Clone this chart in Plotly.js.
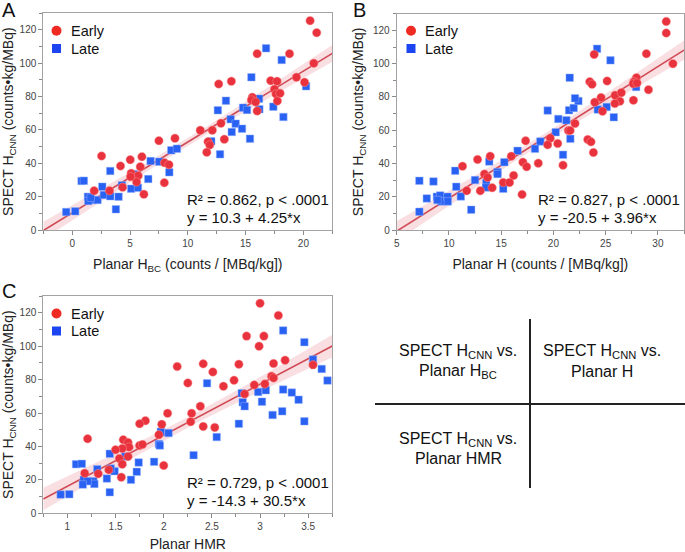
<!DOCTYPE html>
<html>
<head>
<meta charset="utf-8">
<script src="https://cdn.plot.ly/plotly-3.0.1.min.js"></script>
<style>html,body{margin:0;padding:0;background:#fff;}#chart{width:685px;height:552px;}</style>
</head>
<body>
<div id="chart"></div>
<script>
// ---------- Series names ----------
const seriesNames = ['Early', 'Late'];

// ---------- Panel A: SPECT H_CNN vs Planar H_BC ----------
const earlyA_x = [20.58,21.15,20.9,16.0,18.8,19.4,20.1,12.67,13.77,17.17,17.72,17.5,17.63,17.98,17.75,15.58,15.5,15.87,16.0,12.87,11.08,12.12,13.16,11.75,11.9,11.64,7.5,8.89,2.54,4.18,5.02,6.03,5.89,7.99,8.37,7.97,5.1,5.71,5.57,5.05,6.2,4.36,3.23,1.9];
const earlyA_y = [125.6,118.4,100,105.8,105.8,91.6,88.6,87.6,89.2,89.6,89.2,84.4,81.6,82,77.4,79.6,78,76.8,71.4,64,59.8,59.8,54.4,53,51,46.6,53.6,55,44.4,38.4,42.2,44,38,40.4,39.2,28.4,34,32.6,28.8,32,21.4,25.6,23.6,23.6];
const lateA_x = [16.77,18.12,15.5,20.23,13.3,12.6,14.78,15.12,16.16,16.19,17.4,18.27,13.71,14.14,14.69,13.8,15.38,12.03,12.79,8.57,9.06,6.78,7.53,8.4,6.58,3.29,0.81,1.01,2.6,4.3,5.1,5.69,5.34,1.36,1.67,2.19,2.74,3.29,4.01,3.78,0.26,-0.52,1.39,1.6];
const lateA_y = [109,102,91.6,86.2,77.6,71.8,73.4,72,78.8,72.4,74,67.8,66.4,63.8,60.8,58.8,54.8,53.2,45.4,47.8,48.8,41.4,41,34.6,30.6,35.4,29.4,29.6,26,26.8,24.8,25.4,33.4,20,18,18,21,20.2,20,12.4,11.2,10.8,17.4,19.4];

// ---------- Panel B: SPECT H_CNN vs Planar H ----------
const earlyB_x = [30.8,30.8,31.44,28.9,23.9,27.95,27.7,27.64,28.0,29.1,23.48,23.7,25.14,24.56,23.96,25.9,26.5,26.36,25.88,27.66,24.7,22.07,21.43,21.6,23.29,23.6,23.83,17.34,19.7,19.45,20.41,20.92,13.95,11.3,12.74,15.97,17.08,18.55,17.44,13.4,13.7,16.19,15.2,15.8,14.14,13.0,11.7,17.0];
const earlyB_y = [125.4,118.4,100,106,105.6,91.6,89.2,88,88.4,84.4,89.2,87.6,89.6,79.6,76.8,81,82.6,77.4,76,78,71.4,64,59.8,59.8,54.4,53,46.6,53.6,55.2,51.2,52,39,44.4,38.4,42.4,44.4,40.8,40.2,38,33.6,31.6,32.8,28.6,28.6,25.4,23.6,23.6,21.4];
const lateB_x = [24.18,25.46,21.56,27.92,19.45,21.5,21.94,22.39,22.07,24.25,25.1,25.78,20.47,21.24,20.22,21.62,18.75,18.24,16.57,20.92,13.86,15.3,14.65,14.65,10.6,7.17,8.52,12.5,13.57,13.54,15.2,10.7,7.88,8.84,9.16,9.28,9.86,9.89,8.9,11.14,12.13,7.17];
const lateB_y = [109,102,91.6,86,71.8,72,73.4,77.6,79.2,72.4,74,67.8,66.8,66,58.8,54.8,53.2,48.8,47.6,45.2,41.2,40.8,34.8,33.6,35.6,29.6,29.2,30,28.4,25.6,24.8,26,19,20,20.8,17.2,20,17.2,18,20.2,12.2,11];

// ---------- Panel C: SPECT H_CNN vs Planar HMR ----------
const earlyC_x = [3.0,3.19,2.86,3.04,2.99,3.26,3.55,3.14,2.41,2.14,2.51,2.78,3.12,3.14,3.05,2.94,2.73,2.62,2.25,2.84,2.38,2.29,2.04,2.28,2.41,2.53,1.98,1.95,1.81,1.75,1.21,1.58,1.63,1.64,1.57,1.5,1.75,1.78,1.54,1.63,1.57,2.0,1.43,1.32,1.18,1.56];
const earlyC_y = [125.6,118.4,106,106,100,91.6,88.8,89.6,89.4,87.8,84.6,89.2,82,81,77.4,76.8,79.6,76,78,71.4,64,59.8,59.8,54.8,52,51.4,53.2,47,55.4,53.6,44.6,44,42.4,39.6,38.8,38,40.6,41.2,32.8,34,29.4,28.6,26,23.6,24,21.6];
const lateC_x = [3.24,3.46,3.55,3.64,3.7,2.45,2.81,2.98,3.06,3.24,3.33,3.4,2.82,2.84,3.02,3.13,3.23,3.46,2.78,2.55,1.97,2.05,1.95,1.96,2.31,1.9,1.74,1.72,1.66,1.49,1.45,1.44,1.6,1.31,1.09,1.15,1.17,1.41,1.27,1.28,1.21,1.16,1.44,0.93,1.02];
const lateC_y = [109.4,102.4,92,86.4,79.4,77.8,71.8,72.6,73.6,74,72.2,68,66.4,64,66.8,58.8,61,55,53.6,45.6,48.8,48,41.4,40.6,34.8,30.8,30.4,24.8,20,25.2,26.8,35.6,34,26.4,29.4,29.6,20,20.8,19.2,17.6,19.2,17.2,12.6,11.2,11.4];

// ---------- Regression results (as printed) ----------
const fitIntercept = [10.3, -20.5, -14.3];
const fitSlope = [4.25, 3.96, 30.5];
const fitR2 = ['0.862', '0.827', '0.729'];
const fitP = ['.0001', '.0001', '.0001'];

// ---------- Axis titles / labels ----------
const panelLetters = ['A', 'B', 'C'];
const xTitles = ['Planar H<sub>BC</sub> (counts / [MBq/kg])', 'Planar H (counts / [MBq/kg])', 'Planar HMR'];
const yTitle = 'SPECT H<sub>CNN</sub> (counts•kg/MBq)';
const tableLine1 = ['SPECT H<sub>CNN</sub> vs.', 'SPECT H<sub>CNN</sub> vs.', 'SPECT H<sub>CNN</sub> vs.'];
const tableLine2 = ['Planar H<sub>BC</sub>', 'Planar H', 'Planar HMR'];

// ---------- Layout helpers ----------
const W = 685, H = 552;
const px = v => v / W;
const py = v => 1 - v / H;
const FONT = '"Liberation Sans", Arial, Helvetica, sans-serif';
const RED = '#e8323d', BLUE = '#2961f2';
const LINE = '#d04a55', BAND = 'rgba(228,110,122,0.22)';

const panels = [
  {ex: earlyA_x, ey: earlyA_y, lx: lateA_x, ly: lateA_y, xr: [-2.5, 22.5], xd: [43.3, 332.3], yd: [13.3, 230], dt: 5, mdt: 2.5, ax: '', leg: [56.5, 30.7, 48.5], ann: [185, 199.5, 217], letter: [1, 9.5]},
  {ex: earlyB_x, ey: earlyB_y, lx: lateB_x, ly: lateB_y, xr: [5, 32.5], xd: [396.7, 684], yd: [13.8, 230], dt: 5, mdt: 2.5, ax: '2', leg: [411, 30.7, 48.5], ann: [536, 199.5, 217], letter: [352, 9.5]},
  {ex: earlyC_x, ey: earlyC_y, lx: lateC_x, ly: lateC_y, xr: [0.75, 3.75], xd: [43.3, 332.3], yd: [296, 513.3], dt: 0.5, mdt: 0.25, ax: '3', leg: [56.5, 313.5, 331], ann: [185, 482, 500], letter: [1, 291]}
];

const traces = [];
const shapes = [];
const annotations = [];
const layout = {
  width: W, height: H,
  margin: {l: 0, r: 0, t: 0, b: 0},
  paper_bgcolor: '#fff', plot_bgcolor: '#fff',
  showlegend: false,
  font: {family: FONT, color: '#222'}
};

// t quantile approx (two-sided 95%) for large df
const tCrit = df => 1.96 + 2.4 / df;

panels.forEach((p, i) => {
  const xa = 'x' + p.ax, ya = 'y' + p.ax;
  const b0 = fitIntercept[i], b1 = fitSlope[i];

  // Confidence band computed from the data around the printed fit
  const allX = p.ex.concat(p.lx), allY = p.ey.concat(p.ly);
  const n = allX.length;
  const xbar = allX.reduce((a, b) => a + b, 0) / n;
  const sxx = allX.reduce((a, b) => a + (b - xbar) ** 2, 0);
  const sse = allX.reduce((a, xv, k) => a + (allY[k] - (b0 + b1 * xv)) ** 2, 0);
  const s = Math.sqrt(sse / (n - 2));
  const t = tCrit(n - 2);
  const gx = [], lo = [], hi = [];
  const N = 60;
  for (let k = 0; k <= N; k++) {
    const xv = p.xr[0] + (p.xr[1] - p.xr[0]) * k / N;
    const half = t * s * Math.sqrt(1 / n + (xv - xbar) ** 2 / sxx);
    gx.push(xv); lo.push(b0 + b1 * xv - half); hi.push(b0 + b1 * xv + half);
  }
  traces.push({x: gx, y: lo, xaxis: xa, yaxis: ya, mode: 'lines', line: {width: 0, color: BAND}, hoverinfo: 'skip'});
  traces.push({x: gx, y: hi, xaxis: xa, yaxis: ya, mode: 'lines', line: {width: 0, color: BAND}, fill: 'tonexty', fillcolor: BAND, hoverinfo: 'skip'});
  traces.push({x: p.xr, y: p.xr.map(v => b0 + b1 * v), xaxis: xa, yaxis: ya, mode: 'lines', line: {width: 1.6, color: LINE}, hoverinfo: 'skip'});

  // Points
  traces.push({x: p.lx, y: p.ly, xaxis: xa, yaxis: ya, mode: 'markers', name: seriesNames[1],
    marker: {symbol: 'square', size: 7.5, color: BLUE, line: {width: 0.6, color: 'rgba(150,180,255,0.8)'}}});
  traces.push({x: p.ex, y: p.ey, xaxis: xa, yaxis: ya, mode: 'markers', name: seriesNames[0],
    marker: {symbol: 'circle', size: 8.5, color: RED, line: {width: 0.6, color: 'rgba(255,150,150,0.8)'}}});

  // Axes
  const common = {
    showline: true, mirror: true, linecolor: '#a3a3a3', linewidth: 1,
    showgrid: false, zeroline: false, ticks: 'outside', ticklen: 4, tickwidth: 1, tickcolor: '#8a8a8a',
    tickfont: {family: FONT, size: 10, color: '#444'},
    fixedrange: true
  };
  layout['xaxis' + p.ax] = Object.assign({}, common, {
    anchor: ya, domain: [px(p.xd[0]), px(p.xd[1])], range: p.xr,
    dtick: p.dt, tick0: 0, minor: {dtick: p.mdt, ticks: 'outside', ticklen: 3, tickcolor: '#8a8a8a', showgrid: false},
    title: {text: xTitles[i], font: {family: FONT, size: 14, color: '#222'}, standoff: 11}
  });
  layout['yaxis' + p.ax] = Object.assign({}, common, {
    anchor: xa, domain: [py(p.yd[1]), py(p.yd[0])], range: [0, 130],
    dtick: 20, tick0: 0, minor: {dtick: 10, ticks: 'outside', ticklen: 3, tickcolor: '#8a8a8a', showgrid: false},
    title: {text: yTitle, font: {family: FONT, size: 14, color: '#222'}, standoff: 6}
  });

  // Manual legend
  shapes.push({type: 'circle', xref: 'paper', yref: 'paper', xsizemode: 'pixel', ysizemode: 'pixel',
    xanchor: px(p.leg[0]), yanchor: py(p.leg[1]), x0: -5, x1: 5, y0: -5, y1: 5,
    fillcolor: '#ef2a22', line: {width: 0}});
  shapes.push({type: 'rect', xref: 'paper', yref: 'paper', xsizemode: 'pixel', ysizemode: 'pixel',
    xanchor: px(p.leg[0]), yanchor: py(p.leg[2]), x0: -4.5, x1: 4.5, y0: -4.5, y1: 4.5,
    fillcolor: '#1c44f0', line: {width: 0}});
  annotations.push({xref: 'paper', yref: 'paper', x: px(p.leg[0] + 12), y: py(p.leg[1]), xanchor: 'left', yanchor: 'middle',
    text: seriesNames[0], showarrow: false, font: {family: FONT, size: 14.5, color: '#111'}});
  annotations.push({xref: 'paper', yref: 'paper', x: px(p.leg[0] + 12), y: py(p.leg[2]), xanchor: 'left', yanchor: 'middle',
    text: seriesNames[1], showarrow: false, font: {family: FONT, size: 14.5, color: '#111'}});

  // Fit statistics
  const sign = b0 < 0 ? '-' : '';
  annotations.push({xref: 'paper', yref: 'paper', x: px(p.ann[0]), y: py(p.ann[1]), xanchor: 'left', yanchor: 'middle',
    text: 'R² = ' + fitR2[i] + ', p < ' + fitP[i], showarrow: false, font: {family: FONT, size: 15, color: '#111'}});
  annotations.push({xref: 'paper', yref: 'paper', x: px(p.ann[0]), y: py(p.ann[2]), xanchor: 'left', yanchor: 'middle',
    text: 'y = ' + sign + Math.abs(b0) + ' + ' + b1.toFixed(b1 >= 10 ? 1 : 2) + '*x', showarrow: false, font: {family: FONT, size: 15, color: '#111'}});

  // Panel letter
  annotations.push({xref: 'paper', yref: 'paper', x: px(p.letter[0]), y: py(p.letter[1]), xanchor: 'left', yanchor: 'middle',
    text: panelLetters[i], showarrow: false, borderpad: 0, font: {family: FONT, size: 20, color: '#111'}});
});

// Bottom-right key table
shapes.push({type: 'line', xref: 'paper', yref: 'paper', x0: px(530), x1: px(530), y0: py(319), y1: py(488), line: {color: '#222', width: 2}});
shapes.push({type: 'line', xref: 'paper', yref: 'paper', x0: px(375), x1: px(685), y0: py(404), y1: py(404), line: {color: '#222', width: 2}});
const tablePos = [[458, 352, 371], [602, 352, 371], [458, 439.5, 458]];
tableLine1.forEach((t, k) => {
  annotations.push({xref: 'paper', yref: 'paper', x: px(tablePos[k][0]), y: py(tablePos[k][1]), xanchor: 'center', yanchor: 'middle',
    text: t, showarrow: false, align: 'center', font: {family: FONT, size: 16, color: '#111'}});
  annotations.push({xref: 'paper', yref: 'paper', x: px(tablePos[k][0]), y: py(tablePos[k][2]), xanchor: 'center', yanchor: 'middle',
    text: tableLine2[k], showarrow: false, align: 'center', font: {family: FONT, size: 16, color: '#111'}});
});

layout.shapes = shapes;
layout.annotations = annotations;

Plotly.newPlot('chart', traces, layout, {staticPlot: true, displayModeBar: false});
</script>
</body>
</html>
